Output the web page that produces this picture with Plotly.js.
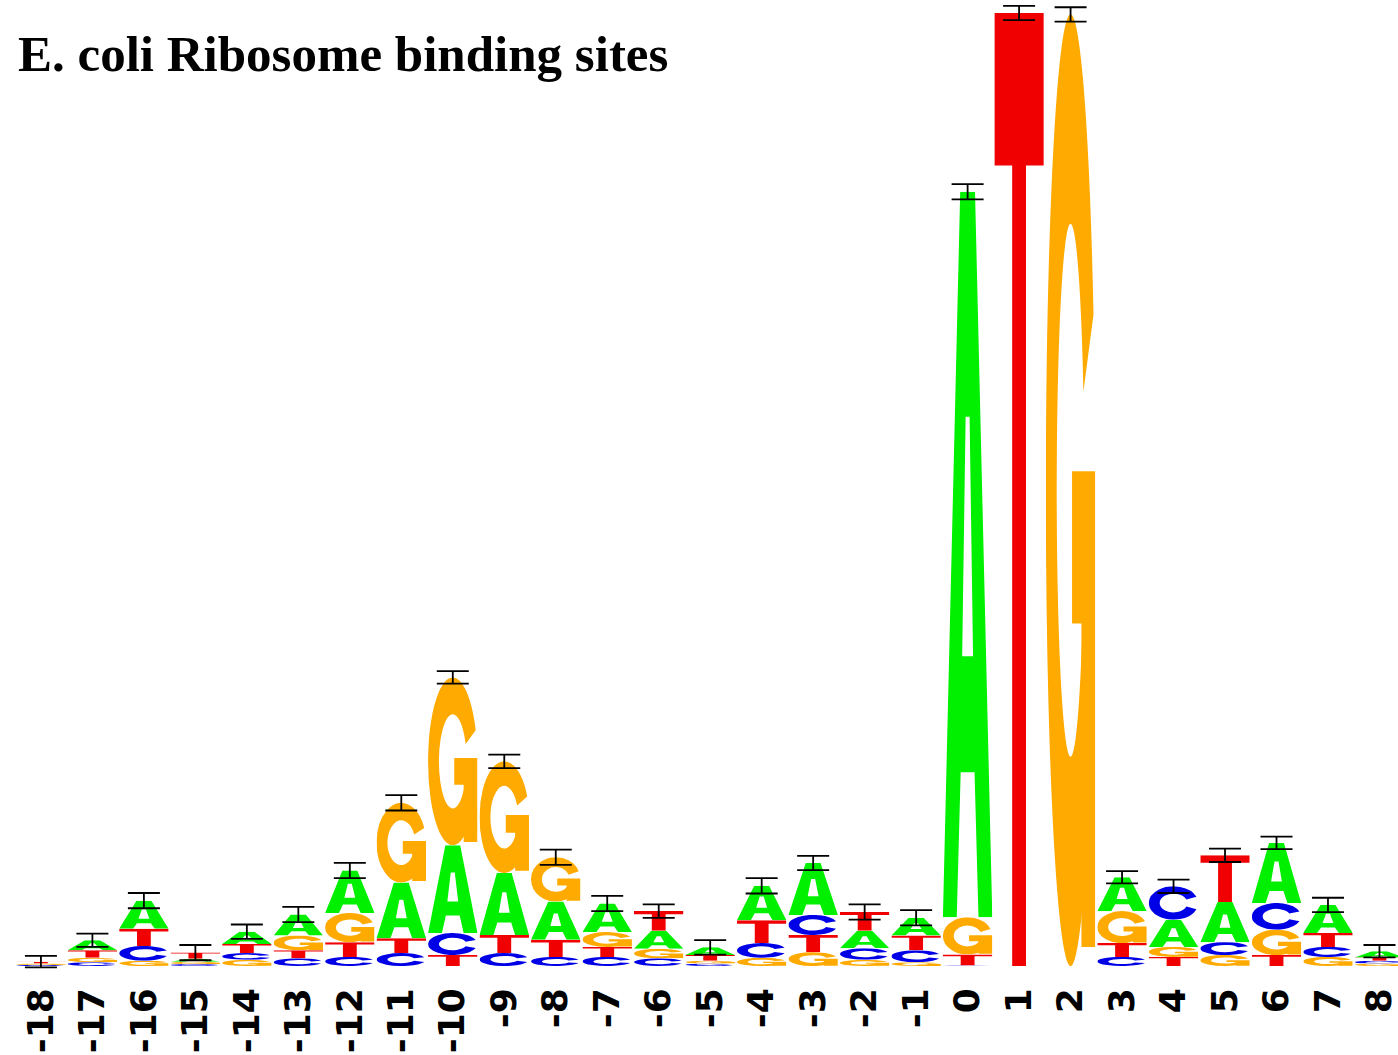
<!DOCTYPE html>
<html>
<head>
<meta charset="utf-8">
<script src="https://cdn.plot.ly/plotly-3.0.1.min.js"></script>
<style>html,body{margin:0;padding:0;background:#fff;}#chart{width:1398px;height:1055px;}</style>
</head>
<body>
<div id="chart"></div>
<script>
// Sequence positions and tick labels
const positions = [-18,-17,-16,-15,-14,-13,-12,-11,-10,-9,-8,-7,-6,-5,-4,-3,-2,-1,0,1,2,3,4,5,6,7,8];
const tickLabels = ['-18','-17','-16','-15','-14','-13','-12','-11','-10','-9','-8','-7','-6','-5','-4','-3','-2','-1','0','1','2','3','4','5','6','7','8'];

// Letter heights (bits) per position
const heightA = [0.000,0.021,0.059,0.006,0.026,0.044,0.089,0.117,0.184,0.130,0.080,0.060,0.038,0.016,0.072,0.109,0.037,0.037,1.521,0.000,0.000,0.071,0.057,0.084,0.126,0.059,0.013];
const heightC = [0.002,0.008,0.031,0.004,0.014,0.016,0.019,0.027,0.046,0.027,0.019,0.019,0.016,0.005,0.031,0.042,0.024,0.025,0.001,0.000,0.000,0.019,0.070,0.027,0.056,0.021,0.006];
const heightG = [0.003,0.009,0.011,0.005,0.013,0.031,0.061,0.167,0.352,0.234,0.093,0.031,0.020,0.006,0.017,0.029,0.013,0.008,0.078,0.000,1.995,0.067,0.021,0.023,0.053,0.019,0.005];
const heightT = [0.004,0.016,0.036,0.013,0.019,0.017,0.031,0.031,0.023,0.038,0.036,0.021,0.041,0.012,0.048,0.036,0.039,0.031,0.023,1.998,0.000,0.029,0.019,0.098,0.023,0.029,0.007];

// Error bar half-heights (bits)
const errBits = [0.012,0.014,0.016,0.016,0.015,0.016,0.016,0.016,0.013,0.014,0.016,0.016,0.014,0.015,0.016,0.015,0.016,0.016,0.016,0.015,0.015,0.013,0.014,0.014,0.013,0.015,0.013];

const letterColors = {A:'#00f000', C:'#0000e6', G:'#ffaa00', T:'#f00000'};

function glyphSVG(letter) {
  const col = letterColors[letter];
  let body = '';
  if (letter === 'A') {
    body = '<path fill-rule="evenodd" fill="'+col+'" d="M0,100 L35,0 L65,0 L100,100 L72,100 L64,80 L36,80 L28,100 Z M39,64 L61,64 L54,31 L46,31 Z"/>';
  } else if (letter === 'T') {
    body = '<path fill="'+col+'" d="M0,0 H100 V16 H64 V100 H36 V16 H0 Z"/>';
  } else if (letter === 'C') {
    body = '<path fill="none" stroke="'+col+'" stroke-width="22" d="M86.2,35.6 A39,39 0 1 0 86.2,64.4"/>';
  } else {
    body = '<path fill="none" stroke="'+col+'" stroke-width="22" d="M86.2,35.6 A39,39 0 1 0 85.3,66.5"/>' +
           '<path fill="'+col+'" d="M53,48 H100 V98 H72 V64 H53 Z"/>';
  }
  const svg = '<svg xmlns="http://www.w3.org/2000/svg" width="100" height="100" viewBox="0 0 100 100" preserveAspectRatio="none">' + body + '</svg>';
  return 'data:image/svg+xml;charset=utf-8,' + encodeURIComponent(svg);
}

const glyphs = {A: glyphSVG('A'), C: glyphSVG('C'), G: glyphSVG('G'), T: glyphSVG('T')};

const images = [];
const totals = [];
positions.forEach((p, i) => {
  const stack = [
    {l:'A', h: heightA[i]}, {l:'C', h: heightC[i]},
    {l:'G', h: heightG[i]}, {l:'T', h: heightT[i]}
  ].filter(s => s.h > 0).sort((a, b) => a.h - b.h);
  let base = 0;
  stack.forEach(s => {
    images.push({
      source: glyphs[s.l], xref: 'x', yref: 'y',
      x: p - 0.48, y: base + s.h, sizex: 0.96, sizey: s.h,
      xanchor: 'left', yanchor: 'top', sizing: 'stretch', layer: 'below'
    });
    base += s.h;
  });
  totals.push(base);
});

const errTrace = {
  type: 'scatter', mode: 'markers',
  x: positions, y: totals,
  marker: {size: 1, opacity: 0},
  error_y: {type: 'data', array: errBits, visible: true, color: '#000', thickness: 1.8, width: 16},
  hoverinfo: 'skip', showlegend: false
};

const layout = {
  width: 1398, height: 1055,
  margin: {l: 0, r: 0, t: 0, b: 75, pad: 0},
  paper_bgcolor: '#fff', plot_bgcolor: '#fff',
  title: {
    text: 'E. coli Ribosome binding sites',
    font: {family: 'Liberation Serif', size: 51, color: '#000', weight: 'bold'},
    x: 18/1398, xanchor: 'left', xref: 'paper',
    y: 1 - 53.5/1055, yanchor: 'middle', yref: 'container'
  },
  xaxis: {
    range: [-18.795, 8.36], tickmode: 'array', tickvals: positions, ticktext: tickLabels,
    tickangle: -90, showgrid: false, zeroline: false, showline: false, ticks: '',
    ticklabeloverflow: 'allow',
    tickfont: {family: 'DejaVu Sans', size: 36, color: '#000', weight: 'bold'},
    fixedrange: true
  },
  yaxis: {range: [-0.0294, 2.0252], visible: false, showgrid: false, zeroline: false, fixedrange: true},
  images: images,
  showlegend: false
};

Plotly.newPlot('chart', [errTrace], layout, {displayModeBar: false, staticPlot: true});
</script>
</body>
</html>
